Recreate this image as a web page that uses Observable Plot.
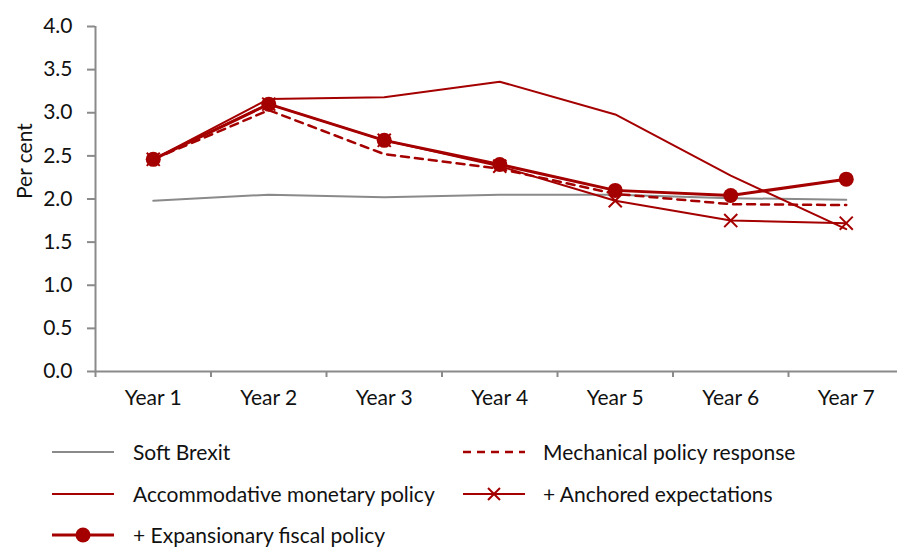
<!DOCTYPE html>
<html>
<head>
<meta charset="utf-8">
<script src="https://cdn.jsdelivr.net/npm/d3@7"></script>
<script src="https://cdn.jsdelivr.net/npm/@observablehq/plot@0.6"></script>
<style>
  body { margin: 0; background: #fff; font-family: Lato, "Open Sans", sans-serif; }
  #wrap { position: relative; width: 897px; height: 549px; overflow: hidden; }
  #legend { position: absolute; left: 0; top: 0; width: 897px; height: 549px; pointer-events: none; }
  .item { position: absolute; display: flex; align-items: center; height: 26px; font-size: 21px; line-height: 26px; color: #111; white-space: nowrap; }
  .item svg { display: block; }
</style>
</head>
<body>
<div id="wrap"><div id="chart"></div><div id="legend"></div></div>
<script>
const years = ["Year 1", "Year 2", "Year 3", "Year 4", "Year 5", "Year 6", "Year 7"];
const softBrexit    = [1.98, 2.05, 2.02, 2.05, 2.05, 2.01, 1.99];
const mechanical    = [2.46, 3.03, 2.52, 2.35, 2.06, 1.94, 1.93];
const accommodative = [2.46, 3.16, 3.18, 3.36, 2.98, 2.27, 1.65];
const anchored      = [2.46, 3.10, 2.68, 2.38, 1.98, 1.75, 1.72];
const fiscal        = [2.46, 3.10, 2.68, 2.40, 2.10, 2.04, 2.23];
const yTicks = [0, 0.5, 1, 1.5, 2, 2.5, 3, 3.5, 4];

const RED = "#a50000";
const GREY = "#8a8a8a";

const rows = (vals) => vals.map((v, i) => ({x: i + 1, y: v}));
const boundaries = d3.range(0, years.length + 1).map(i => i + 0.5);

const chart = Plot.plot({
  width: 897,
  height: 425,
  marginLeft: 95,
  marginRight: 0,
  marginTop: 26,
  marginBottom: 54,
  style: {fontFamily: "Lato, 'Open Sans', sans-serif", fontSize: "21px", color: "#111", background: "#fff"},
  x: {type: "linear", domain: [0.5, years.length + 0.5], range: [95, 95 + 115.5 * years.length]},
  y: {domain: [0, 4]},
  marks: [
    Plot.ruleX([0.5], {stroke: GREY, strokeWidth: 2}),
    Plot.ruleY([0], {stroke: GREY, strokeWidth: 2, x1: 0.5, x2: years.length + 0.5}),
    Plot.axisY({ticks: yTicks, tickFormat: d3.format(".1f"), tickSize: 8, tickPadding: 15, stroke: GREY, strokeWidth: 2, label: null, fill: "#111"}),
    Plot.axisX({ticks: boundaries, tickFormat: () => "", tickSize: 6, stroke: GREY, strokeWidth: 2, label: null}),
    Plot.axisX({ticks: years.map((_, i) => i + 1), tickFormat: d => years[d - 1], tickSize: 0, tickPadding: 19, label: null, fill: "#111"}),
    Plot.text(["Per cent"], {frameAnchor: "left", dx: -70, rotate: -90, fontSize: 21, fill: "#111"}),
    Plot.line(rows(softBrexit), {x: "x", y: "y", stroke: GREY, strokeWidth: 2}),
    Plot.line(rows(accommodative), {x: "x", y: "y", stroke: RED, strokeWidth: 2}),
    Plot.line(rows(mechanical), {x: "x", y: "y", stroke: RED, strokeWidth: 2.5, strokeDasharray: "8,6"}),
    Plot.line(rows(anchored), {x: "x", y: "y", stroke: RED, strokeWidth: 2}),
    Plot.dot(rows(anchored), {x: "x", y: "y", symbol: "times", r: 6, stroke: RED, strokeWidth: 2}),
    Plot.line(rows(fiscal), {x: "x", y: "y", stroke: RED, strokeWidth: 3}),
    Plot.dot(rows(fiscal), {x: "x", y: "y", r: 7.5, fill: RED, stroke: "none"})
  ]
});
document.getElementById("chart").appendChild(chart);

const legendItems = [
  {label: "Soft Brexit", stroke: GREY, dash: null, marker: null, left: 52, top: 452},
  {label: "Mechanical policy response", stroke: RED, dash: "8,6", marker: null, left: 463, top: 452},
  {label: "Accommodative monetary policy", stroke: RED, dash: null, marker: null, left: 52, top: 494},
  {label: "+ Anchored expectations", stroke: RED, dash: null, marker: "x", left: 463, top: 494},
  {label: "+ Expansionary fiscal policy", stroke: RED, dash: null, marker: "o", left: 52, top: 535}
];
const legend = document.getElementById("legend");
for (const it of legendItems) {
  const div = document.createElement("div");
  div.className = "item";
  div.style.left = it.left + "px";
  div.style.top = (it.top - 13) + "px";
  const sw = 62;
  let svg = `<svg width="${sw}" height="26"><line x1="0" x2="${sw}" y1="13" y2="13" stroke="${it.stroke}" stroke-width="${it.dash ? 2.5 : (it.marker === "o" ? 3 : 2)}"${it.dash ? ` stroke-dasharray="${it.dash}"` : ""}/>`;
  if (it.marker === "x") svg += `<path d="M${sw/2-6},7L${sw/2+6},19M${sw/2+6},7L${sw/2-6},19" stroke="${it.stroke}" stroke-width="2"/>`;
  if (it.marker === "o") svg += `<circle cx="${sw/2}" cy="13" r="7.5" fill="${it.stroke}"/>`;
  svg += `</svg>`;
  div.innerHTML = svg + `<span style="margin-left:${it.left < 400 ? 19 : 18}px">${it.label}</span>`;
  legend.appendChild(div);
}
</script>
</body>
</html>
